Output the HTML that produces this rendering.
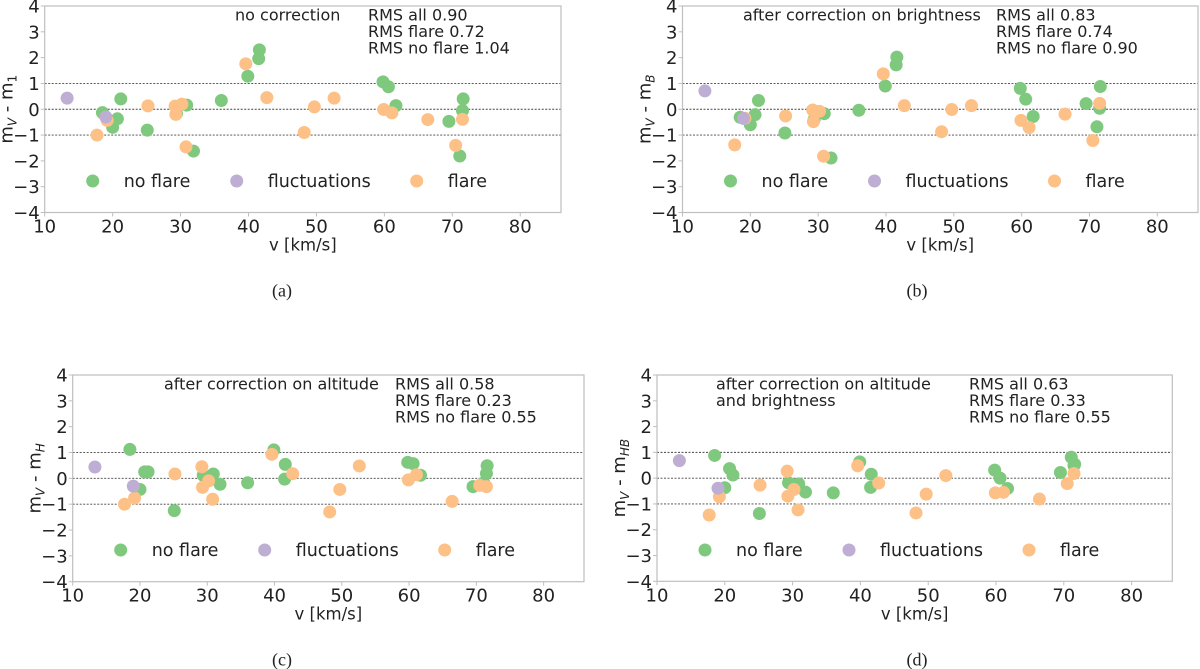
<!DOCTYPE html>
<html><head><meta charset="utf-8">
<style>
html,body{margin:0;padding:0;background:#fff;}
svg{display:block;font-family:"DejaVu Sans","Liberation Sans",sans-serif;}
</style></head>
<body>
<svg id="fig" width="1200" height="669" viewBox="0 0 1200 669" xmlns="http://www.w3.org/2000/svg"></svg>
<script>
// shared x values (km/s)
const xNoFlare = [18.5,20.0,20.7,21.2,25.1,29.4,30.9,31.9,36.0,39.9,41.5,41.6,59.8,60.6,61.7,69.5,71.1,71.5,71.6];
const xFluct = [13.3,19.0];
const xFlare = [17.7,19.2,25.2,29.2,29.3,30.2,30.8,39.6,42.7,48.2,49.7,52.6,59.9,61.1,66.4,70.5,71.5];
// panel (a) no correction
const aNoFlare = [-0.13,-0.70,-0.37,0.40,-0.81,-0.17,0.16,-1.62,0.34,1.28,1.96,2.30,1.06,0.87,0.14,-0.47,-1.81,-0.05,0.40];
const aFluct = [0.43,-0.30];
const aFlare = [-1.00,-0.43,0.13,0.12,-0.20,0.20,-1.46,1.76,0.45,-0.90,0.09,0.43,-0.01,-0.14,-0.40,-1.40,-0.39];
// panel (b) brightness
const bNoFlare = [-0.31,-0.60,-0.21,0.34,-0.92,-0.40,-0.17,-1.89,-0.04,0.90,1.72,2.02,0.81,0.39,-0.28,0.22,-0.68,0.04,0.88];
const bFluct = [0.71,-0.36];
const bFlare = [-1.38,-0.35,-0.26,-0.03,-0.48,-0.08,-1.82,1.37,0.14,-0.87,-0.01,0.14,-0.43,-0.71,-0.19,-1.21,0.23];
// panel (c) altitude
const cNoFlare = [1.12,-0.43,0.25,0.25,-1.25,0.12,0.17,-0.23,-0.17,1.10,-0.03,0.54,0.62,0.57,0.12,-0.32,-0.17,0.19,0.49];
const cFluct = [0.44,-0.30];
const cFlare = [-1.00,-0.76,0.17,0.45,-0.35,-0.10,-0.81,0.93,0.18,-1.30,-0.43,0.48,-0.06,0.14,-0.89,-0.27,-0.32];
// panel (d) altitude and brightness
const dNoFlare = [0.88,-0.37,0.37,0.12,-1.37,-0.18,-0.22,-0.54,-0.57,0.63,-0.36,0.15,0.31,0.00,-0.40,0.22,0.81,0.49,0.54];
const dFluct = [0.68,-0.39];
const dFlare = [-1.43,-0.72,-0.27,0.27,-0.70,-0.44,-1.23,0.48,-0.19,-1.35,-0.62,0.10,-0.57,-0.55,-0.81,-0.21,0.18];
const xTicks = [10,20,30,40,50,60,70,80];
const yTicks = [4,3,2,1,0,-1,-2,-3,-4];
const refLines = [1,0,-1];

const NS = "http://www.w3.org/2000/svg";
const svg = document.getElementById('fig');
function mk(tag, attrs, parent){ const e=document.createElementNS(NS,tag); for(const k in attrs) e.setAttribute(k,attrs[k]); (parent||svg).appendChild(e); return e; }
const C_G="#7fc97f", C_P="#beaed4", C_O="#fdc086";

const panels = [
  {id:'a', L:44.7, R:561, T:6, B:212.5, sub:'1', italic:false, ng:aNoFlare, fl:aFluct, or:aFlare,
   notes:[{x:235,lines:['no correction']},{x:368,lines:['RMS all 0.90','RMS flare 0.72','RMS no flare 1.04']}], cap:'(a)', capX:282},
  {id:'b', L:682.5, R:1198, T:6, B:212.5, sub:'B', italic:true, ng:bNoFlare, fl:bFluct, or:bFlare,
   notes:[{x:743,lines:['after correction on brightness']},{x:996,lines:['RMS all 0.83','RMS flare 0.74','RMS no flare 0.90']}], cap:'(b)', capX:917},
  {id:'c', L:72.7, R:584, T:375, B:581.7, sub:'H', italic:true, ng:cNoFlare, fl:cFluct, or:cFlare,
   notes:[{x:164,lines:['after correction on altitude']},{x:395,lines:['RMS all 0.58','RMS flare 0.23','RMS no flare 0.55']}], cap:'(c)', capX:282},
  {id:'d', L:657, R:1172.3, T:375, B:581.3, sub:'HB', italic:true, ng:dNoFlare, fl:dFluct, or:dFlare,
   notes:[{x:716,lines:['after correction on altitude','and brightness']},{x:969,lines:['RMS all 0.63','RMS flare 0.33','RMS no flare 0.55']}], cap:'(d)', capX:917}
];

panels.forEach(p=>{
  const g = mk('g',{});
  
  
  const xs = v => p.L + (v-10)*(p.R-p.L)/76;
  const ys = v => p.T + (4-v)*(p.B-p.T)/8;
  refLines.forEach(r=>{
    const l = mk('line',{x1:p.L,x2:p.R,y1:ys(r),y2:ys(r),stroke:'#444','stroke-width':0.9,'stroke-dasharray':'2,1.5'},g);
    
    
  });
  const fr = mk('rect',{x:p.L,y:p.T,width:p.R-p.L,height:p.B-p.T,fill:'none',stroke:'#bfbfbf','stroke-width':1.2},g);
  
  
  xTicks.forEach(t=>{
    mk('line',{x1:xs(t),x2:xs(t),y1:p.B,y2:p.B+4,stroke:'#bfbfbf','stroke-width':1},g);
    const tx = mk('text',{x:xs(t),y:p.B+20,'text-anchor':'middle','font-size':18,fill:'#222'},g);
    tx.textContent = t;
    
    
  });
  yTicks.forEach(t=>{
    mk('line',{x1:p.L-4,x2:p.L,y1:ys(t),y2:ys(t),stroke:'#bfbfbf','stroke-width':1},g);
    const tx = mk('text',{x:p.L-5,y:ys(t)+6.5,'text-anchor':'end','font-size':18,fill:'#222'},g);
    tx.textContent = t<0 ? '\u2212'+(-t) : String(t);
    
    
  });
  const xt = mk('text',{x:(p.L+p.R)/2,y:p.B+38,'text-anchor':'middle','font-size':16.5,fill:'#222'},g);
  xt.textContent='v [km/s]';
  
  
  const yx = p.L-32, yy=(p.T+p.B)/2;
  const yt = mk('text',{x:yx,y:yy,'text-anchor':'middle','font-size':18,fill:'#222',transform:`rotate(-90 ${yx} ${yy})`},g);
  
  
  yt.appendChild(document.createTextNode('m'));
  const s1 = mk('tspan',{'font-size':12,'font-style':'italic',dy:4},yt); s1.textContent='V';
  const s2 = mk('tspan',{dy:-4},yt); s2.textContent=' - m';
  const s3 = mk('tspan',{'font-size':12,'font-style':p.italic?'italic':'normal',dy:4},yt); s3.textContent=p.sub;
  function series(xa, ya, col, name){
    xa.forEach((xv,i)=>{
      const c = mk('circle',{cx:xs(xv),cy:ys(ya[i]),r:6.5,fill:col},g);
      
      
    });
  }
  series(xNoFlare,p.ng,C_G,'no-flare');
  series(xFlare,p.or,C_O,'flare');
  series(xFluct,p.fl,C_P,'fluctuations');
  const legY = p.T+175;
  [[48,C_G,'no flare'],[192,C_P,'fluctuations'],[372,C_O,'flare']].forEach(([dx,col,lab])=>{
    const c = mk('circle',{cx:p.L+dx,cy:legY,r:6.5,fill:col},g);
    
    
    const t = mk('text',{x:p.L+dx+31,y:legY+6,'font-size':17.5,fill:'#222'},g);
    t.textContent=lab;
    
    
  });
  p.notes.forEach(n=>{
    n.lines.forEach((ln,i)=>{
      const t = mk('text',{x:n.x,y:p.T+14.5+i*16.6,'font-size':16,fill:'#222'},g);
      t.textContent=ln;
      
      
    });
  });
  const cp = mk('text',{x:p.capX,y:p.B+84,'text-anchor':'middle','font-size':18,fill:'#222','font-family':'"Liberation Serif",serif'},g);
  cp.textContent=p.cap;
  
  
});
</script>
</body></html>
